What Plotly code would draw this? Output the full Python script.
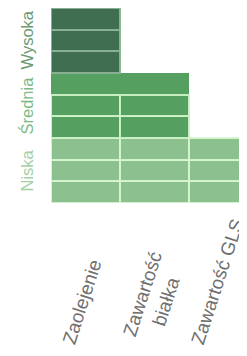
import plotly.graph_objects as go

# ---- data ----
categories = ["Zaolejenie", "Zawartość<br>białka", "Zawartość GLS"]
levels = ["Niska", "Średnia", "Wysoka"]
niska_cells = [3, 3, 3]
srednia_cells = [3, 3, 0]
wysoka_cells = [3, 0, 0]
# top "Średnia" row drawn as one merged block over these columns
srednia_top_merged = [True, True, False]

level_counts = [niska_cells, srednia_cells, wysoka_cells]
level_fill = ["#8cc08e", "#55a061", "#3f6f50"]
level_line = ["rgba(215,245,208,0.95)", "rgba(205,242,198,0.95)", "rgba(140,178,150,0.95)"]
label_color = ["#a3d1a4", "#7cba84", "#6a9a74"]
rows_per_level = 3

fig = go.Figure()

# merged blocks first (no outline) so the cell outlines are drawn above them
merged_idx = [i for i, m in enumerate(srednia_top_merged) if m]
if merged_idx:
    fig.add_trace(go.Bar(
        x=[sum(merged_idx) / len(merged_idx)],
        y=[1],
        base=[rows_per_level * 1 + (rows_per_level - 1)],
        width=[len(merged_idx)],
        marker=dict(color=level_fill[1], line=dict(width=0)),
        hoverinfo="skip", showlegend=False,
    ))

for j, counts in enumerate(level_counts):
    for k in range(rows_per_level):
        xs, bases = [], []
        for i, c in enumerate(counts):
            if c > k:
                if j == 1 and k == rows_per_level - 1 and srednia_top_merged[i]:
                    continue
                xs.append(i)
                bases.append(rows_per_level * j + k)
        if not xs:
            continue
        fig.add_trace(go.Bar(
            x=xs, y=[1] * len(xs), base=bases, width=[1] * len(xs),
            marker=dict(color=level_fill[j], line=dict(color=level_line[j], width=2)),
            hoverinfo="skip", showlegend=False,
        ))

# x category labels (hang from a common bottom line)
x_label_shift = [-4, 0, -6]
for i, cat in enumerate(categories):
    fig.add_annotation(
        x=i, y=-0.752, xref="x", yref="paper",
        text=cat, showarrow=False, textangle=-72,
        xanchor="center", yanchor="bottom",
        xshift=x_label_shift[i],
        font=dict(family="Liberation Sans, Arial, sans-serif", size=19, color="#707070"),
    )

# y level labels
for j, lv in enumerate(levels):
    fig.add_annotation(
        x=0, y=rows_per_level * j + rows_per_level / 2, xref="paper", yref="y",
        text=lv, showarrow=False, textangle=-90,
        xanchor="right", yanchor="middle", xshift=-14,
        font=dict(family="Liberation Sans, Arial, sans-serif", size=16.5, color=label_color[j]),
    )

fig.update_layout(
    width=250, height=356,
    margin=dict(l=43, r=0, t=0, b=161),
    paper_bgcolor="white", plot_bgcolor="white",
    barmode="overlay", bargap=0,
    showlegend=False,
    xaxis=dict(range=[-0.5, 2.5], showticklabels=False, showgrid=False,
               zeroline=False, showline=False, ticks=""),
    yaxis=dict(range=[0, 9], showticklabels=False, showgrid=False,
               zeroline=False, showline=False, ticks=""),
)

fig.write_html("out.html")
